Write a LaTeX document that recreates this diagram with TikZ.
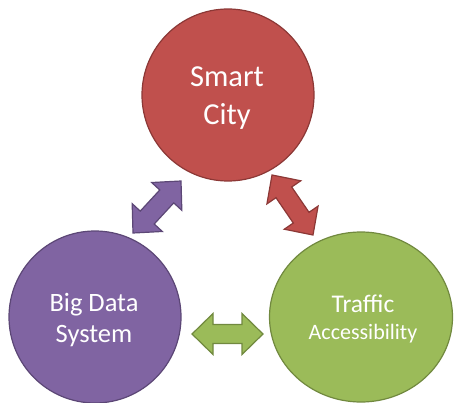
\documentclass[tikz,border=0pt]{standalone}
\usepackage{fontspec}
\setmainfont{Carlito}
\usetikzlibrary{calc,shapes.geometric}

\definecolor{redfill}{HTML}{C0504D}
\definecolor{redline}{HTML}{8C3836}
\definecolor{purplefill}{HTML}{8064A2}
\definecolor{purpleline}{HTML}{5C4776}
\definecolor{greenfill}{HTML}{9BBB59}
\definecolor{greenline}{HTML}{71893F}

% Two-headed block arrow between coordinates #1 and #2, drawn with style #3
\newcommand{\blockarrow}[3]{%
  \draw[#3]
    (#1)
    -- ($(#1)!\headlen!(#2)!\headhalf!90:(#2)$)
    -- ($(#1)!\headlen!(#2)!\shafthalf!90:(#2)$)
    -- ($(#2)!\headlen!(#1)!\shafthalf!-90:(#1)$)
    -- ($(#2)!\headlen!(#1)!\headhalf!-90:(#1)$)
    -- (#2)
    -- ($(#2)!\headlen!(#1)!\headhalf!90:(#1)$)
    -- ($(#2)!\headlen!(#1)!\shafthalf!90:(#1)$)
    -- ($(#1)!\headlen!(#2)!\shafthalf!-90:(#2)$)
    -- ($(#1)!\headlen!(#2)!\headhalf!-90:(#2)$)
    -- cycle;}
\newcommand{\headlen}{21pt}
\newcommand{\headhalf}{20.5pt}
\newcommand{\shafthalf}{9.5pt}

\begin{document}
\begin{tikzpicture}[x=1pt,y=-1pt,
  bubble/.style={circle, line width=1.2pt, inner sep=0pt, minimum size=172pt},
  oval/.style={ellipse, line width=1.2pt, inner sep=0pt, minimum width=183pt, minimum height=170pt},
  label/.style={text=white, anchor=base, inner sep=0pt},
  linkarrow/.style={line width=1.2pt, line join=miter}]
  \useasboundingbox (0,0) rectangle (454,403);

  % the three topics
  \node[bubble, fill=redfill, draw=redline] (city) at (228,95) {};
  \node[bubble, fill=purplefill, draw=purpleline] (data) at (95,317) {};
  \node[oval, fill=greenfill, draw=greenline] (traffic) at (361,317) {};

  % titles
  \node[label, font=\fontsize{30.5}{30.5}\selectfont] (t1) at (227,87) {Smart};
  \node[label, font=\fontsize{30.5}{30.5}\selectfont] (t2) at (227,125) {City};
  \node[label, font=\fontsize{26.5}{26.5}\selectfont] (t3) at (94,311) {Big Data};
  \node[label, font=\fontsize{26.5}{26.5}\selectfont] (t4) at (94,342) {System};
  \node[label, font=\fontsize{25.5}{25.5}\selectfont] (t5) at (363,312) {Traffic};
  \node[label, font=\fontsize{22}{22}\selectfont] (t6) at (363,339) {Accessibility};

  % arrow tips
  \coordinate (pa) at (181,181);
  \coordinate (pb) at (133,233);
  \coordinate (ra) at (272,175);
  \coordinate (rb) at (313,235);
  \coordinate (ga) at (192,334);
  \coordinate (gb) at (263,334);

  % links between the topics
  \blockarrow{pa}{pb}{linkarrow, fill=purplefill, draw=purpleline}
  \blockarrow{ra}{rb}{linkarrow, fill=redfill, draw=redline}
  \blockarrow{ga}{gb}{linkarrow, fill=greenfill, draw=greenline}
\end{tikzpicture}
\end{document}
